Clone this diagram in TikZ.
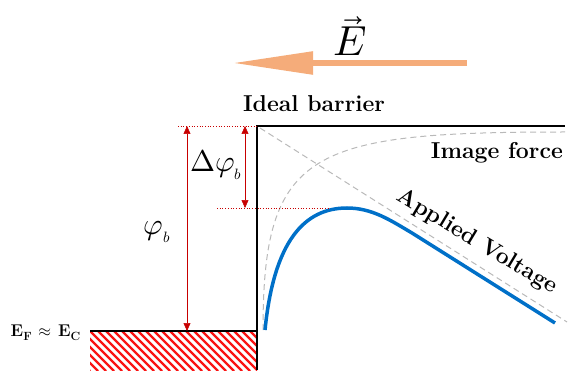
\documentclass[tikz,border=0pt]{standalone}
\usepackage{amsmath}
\usepackage{fontspec}
\usepackage{unicode-math}
\setmathfont{Latin Modern Math}
\usepackage{tikz}
\usetikzlibrary{arrows.meta, positioning, calc}
\usepackage{xcolor}
\definecolor{fieldorange}{RGB}{245,172,122}
\definecolor{curveblue}{RGB}{0,112,200}
\definecolor{hatchred}{RGB}{250,20,20}
\definecolor{dimred}{RGB}{200,0,0}

\begin{document}
\begin{tikzpicture}[
    x=1pt, y=-1pt,
    level/.style={line width=2pt, black},
    guide/.style={gray!55, dashed, dash pattern=on 6pt off 4pt, line width=1pt},
    refline/.style={dimred, dotted, line width=0.7pt},
    dimarrow/.style={dimred, line width=0.5pt, {Triangle[length=8pt,width=7pt]}-{Triangle[length=8pt,width=7pt]}},
    hatchline/.style={hatchred, line width=2.2pt},
    bandlabel/.style={font=\fontsize{23}{26}\selectfont\bfseries, inner sep=0pt},
]
    \useasboundingbox (0,0) rectangle (569,379);

    % Field arrow
    \coordinate (fieldstart) at (467,63);
    \coordinate (fieldend) at (233,63);
    \draw[fieldorange, line width=5.5pt, -{Triangle[length=80pt,width=22pt]}] (fieldstart) -- (fieldend);
    \node (efield) at (350,36) {\fontsize{42}{46}\selectfont$\vec{E}$};

    % Metal side, hatched
    \begin{scope}
        \clip (90,331) rectangle (257,370);
        \foreach \i in {0,...,26}
            \draw[hatchline] ({50+8*\i},331) -- ++(40,40);
    \end{scope}

    % Band edges
    \coordinate (bartop) at (257,126);
    \coordinate (barend) at (565,126);
    \coordinate (barbot) at (257,370);
    \coordinate (fermiL) at (90,331);
    \coordinate (fermiR) at (257,331);
    \draw[level] (fermiL) -- (fermiR);
    \draw[level] (barbot) -- (bartop) -- (barend);

    % Image force and field lines
    \coordinate (imgstart) at (263,330);
    \coordinate (imgend) at (565,132);
    \draw[guide] (imgstart) .. controls (263,150) and (310,132) .. (imgend);
    \coordinate (fieldtop) at (260,128);
    \coordinate (fieldbot) at (567,322);
    \draw[guide] (fieldtop) -- (fieldbot);

    % Lowered barrier
    \coordinate (curvestart) at (265,330);
    \coordinate (curvepeak) at (347,208);
    \coordinate (curveend) at (555,323);
    \draw[curveblue, line width=3.5pt] (curvestart) .. controls (274,240) and (305,208) .. (curvepeak)
        .. controls (372,208) and (390,220) .. (412,233) -- (curveend);

    % Barrier heights
    \coordinate (reftop) at (178,126);
    \coordinate (peakL) at (217,208);
    \coordinate (peakR) at (330,208);
    \draw[refline] (reftop) -- (bartop);
    \draw[refline] (peakL) -- (peakR);
    \coordinate (phitop) at (187,126);
    \coordinate (phibot) at (187,331);
    \draw[dimarrow] (phitop) -- (phibot);
    \coordinate (dphitop) at (245,126);
    \coordinate (dphibot) at (245,208);
    \draw[dimarrow] (dphitop) -- (dphibot);

    % Labels
    \node (dphi) at (216,165) {\fontsize{30}{34}\selectfont$\mitDelta\varphi_{\scriptscriptstyle b}$};
    \node (phi) at (157,232) {\fontsize{30}{34}\selectfont$\varphi_{\scriptscriptstyle b}$};
    \node[bandlabel] (ideal) at (314,104) {Ideal barrier};
    \node[bandlabel, anchor=east] (imgforce) at (563,153) {Image force};
    \node[bandlabel, rotate=-31] (applied) at (477,242) {Applied Voltage};
    \node[anchor=east, inner sep=0pt] (fermi) at (81,333) {\fontsize{17}{20}\selectfont\bfseries E\textsubscript{F} $\approx$ E\textsubscript{C}};
\end{tikzpicture}
\end{document}
